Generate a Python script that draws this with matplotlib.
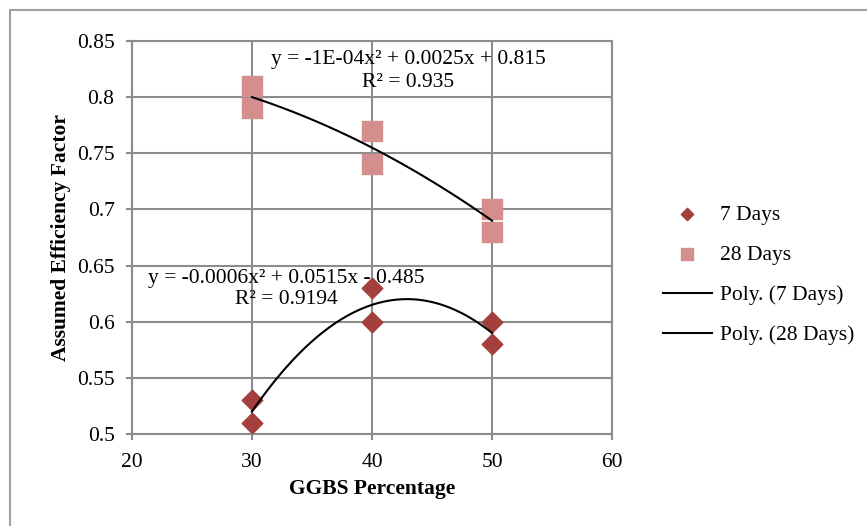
import numpy as np
import matplotlib
matplotlib.use('Agg')
import matplotlib.pyplot as plt
from matplotlib.patches import Rectangle

plt.rcParams['font.family'] = ['Liberation Serif', 'DejaVu Serif']

# data
ggbs = [30, 30, 40, 40, 50, 50]
days7 = [0.53, 0.51, 0.63, 0.60, 0.60, 0.58]
days28 = [0.81, 0.79, 0.77, 0.74, 0.70, 0.68]
eq7 = "y = -0.0006x² + 0.0515x - 0.485\nR² = 0.9194"
eq28 = "y = -1E-04x² + 0.0025x + 0.815\nR² = 0.935"
xticks = [20, 30, 40, 50, 60]
yticks = [0.5, 0.55, 0.6, 0.65, 0.7, 0.75, 0.8, 0.85]

red = '#A3403D'
pink = '#D48E8E'
grid = '#8C8C8C'
fs = 15.5

fig = plt.figure(figsize=(8.67, 5.26), dpi=100)
# outer chart border
fig.patches.append(Rectangle((10 / 867, -0.1), 1.2, 1 - 10 / 526 + 0.1,
                             transform=fig.transFigure, fill=False,
                             edgecolor='#A0A0A0', linewidth=1.5))
ax = fig.add_axes([0.1522, 0.1749, 0.5537, 0.7472])

ax.scatter(ggbs, days7, marker='D', s=110, color=red, zorder=3, label='7 Days')
ax.scatter(ggbs, days28, marker='s', s=200, color=pink, zorder=3, label='28 Days')

# polynomial (order 2) trendlines as in Excel
xs = np.linspace(min(ggbs), max(ggbs), 100)
p7 = np.polyfit(ggbs, days7, 2)
p28 = np.polyfit(ggbs, days28, 2)
ax.plot(xs, np.polyval(p7, xs), color='black', lw=1.5, zorder=4, label='Poly. (7 Days)')
ax.plot(xs, np.polyval(p28, xs), color='black', lw=1.5, zorder=4, label='Poly. (28 Days)')

ax.text(43.0, 0.8233, eq28, ha='center', va='center', fontsize=fs,
        linespacing=1.25, zorder=5)
ax.text(32.85, 0.6291, eq7, ha='center', va='center', fontsize=fs,
        linespacing=1.2, zorder=5)

ax.set_xlim(20, 60)
ax.set_ylim(0.5, 0.85)
ax.set_xticks(xticks)
ax.set_yticks(yticks)
ax.set_yticklabels(['0.5', '0.55', '0.6', '0.65', '0.7', '0.75', '0.8', '0.85'])
ax.tick_params(labelsize=fs, color=grid, length=4.5, width=1.5)
ax.tick_params(axis='y', pad=8)
ax.tick_params(axis='x', pad=9)
ax.grid(True, color=grid, linewidth=1.5)
ax.set_axisbelow(True)
for s in ax.spines.values():
    s.set_color(grid)
    s.set_linewidth(1.5)

ax.set_xlabel('GGBS Percentage', fontsize=fs, fontweight='bold', labelpad=5)
ax.set_ylabel('Assumed Efficiency Factor', fontsize=fs, fontweight='bold', labelpad=4)

leg = ax.legend(loc='upper left', bbox_to_anchor=(1.106, 0.583), frameon=False,
                fontsize=fs, handlelength=2.28, labelspacing=0.93,
                handletextpad=0.37, borderpad=0, borderaxespad=0,
                markerscale=0.6)

fig.savefig('out.png', dpi=100)
